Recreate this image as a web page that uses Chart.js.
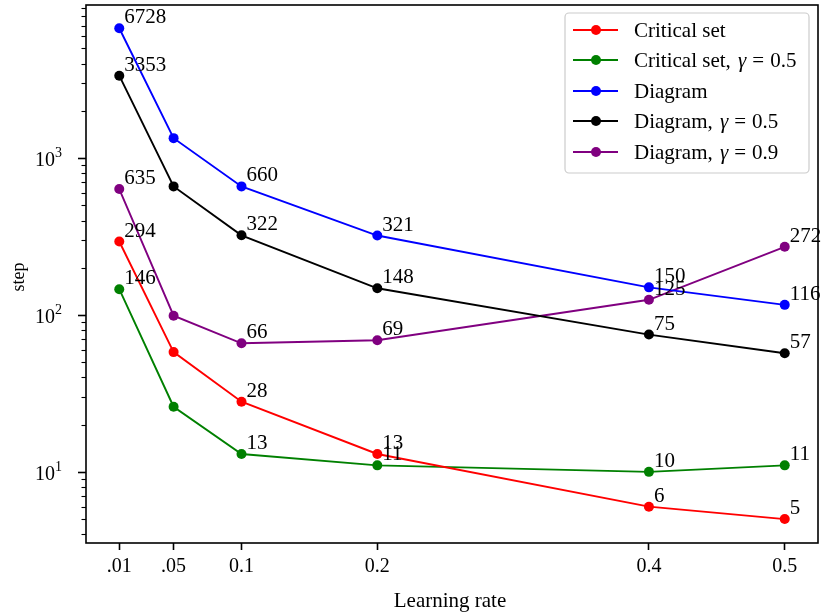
<!DOCTYPE html>
<html>
<head>
<meta charset="utf-8">
<script src="https://cdn.jsdelivr.net/npm/chart.js@4"></script>
<style>
  body { margin: 0; background: #fff; }
  #wrap { width: 823px; height: 613px; }
</style>
</head>
<body>
<div id="wrap"><canvas id="stepChart" width="823" height="613"></canvas></div>
<script>
const learningRates = [0.01, 0.05, 0.1, 0.2, 0.4, 0.5];
const tickLabels = ['.01', '.05', '0.1', '0.2', '0.4', '0.5'];

const criticalSet = [294, 58, 28, 13, 6, 5];
const criticalSetG05 = [146, 26, 13, 11, 10, 11];
const diagram = [6728, 1340, 660, 321, 150, 116];
const diagramG05 = [3353, 660, 322, 148, 75, 57];
const diagramG09 = [635, 99, 66, 69, 125, 272];

const seriesNames = ['Critical set', 'Critical set, ', 'Diagram', 'Diagram, ', 'Diagram, '];
const seriesGamma = [null, '0.5', null, '0.5', '0.9'];
const seriesColors = ['#ff0000', '#008000', '#0000ff', '#000000', '#800080'];
const allSeries = [criticalSet, criticalSetG05, diagram, diagramG05, diagramG09];

const FONT = '"Liberation Serif", "DejaVu Serif", serif';

function makeDataset(values, i) {
  return {
    label: seriesNames[i] + (seriesGamma[i] ? 'γ = ' + seriesGamma[i] : ''),
    data: values.map((v, k) => ({ x: learningRates[k], y: v })),
    borderColor: seriesColors[i],
    backgroundColor: seriesColors[i],
    borderWidth: 1.9,
    pointRadius: 5,
    pointHoverRadius: 5,
    pointBorderWidth: 0,
    tension: 0
  };
}

// labels, frame, log ticks and the legend, drawn the matplotlib way
const extras = {
  id: 'extras',
  afterDatasetsDraw(chart) {
    const ctx = chart.ctx;
    const area = chart.chartArea;
    const xs = chart.scales.x;
    const ys = chart.scales.y;
    ctx.save();

    // value labels
    ctx.font = '21px ' + FONT;
    ctx.fillStyle = '#000';
    ctx.textAlign = 'left';
    ctx.textBaseline = 'alphabetic';
    allSeries.forEach(vals => {
      vals.forEach((v, k) => {
        if (k === 1) return;
        const px = xs.getPixelForValue(learningRates[k]);
        const py = ys.getPixelForValue(v);
        ctx.fillText(String(v), px + 5, py - 5);
      });
    });

    // frame
    ctx.strokeStyle = '#000';
    ctx.lineWidth = 1.6;
    ctx.strokeRect(area.left, area.top, area.right - area.left, area.bottom - area.top);

    // y ticks (major + minor)
    for (let e = 0; e <= 3; e++) {
      for (let m = 1; m <= 9; m++) {
        const v = m * Math.pow(10, e);
        if (v < ys.min || v > ys.max) continue;
        const py = Math.round(ys.getPixelForValue(v)) + 0.5;
        const major = m === 1;
        ctx.lineWidth = major ? 1.6 : 1.1;
        ctx.beginPath();
        ctx.moveTo(area.left, py);
        ctx.lineTo(area.left - (major ? 8 : 4.5), py);
        ctx.stroke();
        if (major) {
          ctx.textBaseline = 'alphabetic';
          ctx.textAlign = 'left';
          ctx.font = '20px ' + FONT;
          ctx.fillText('10', 35, py + 7);
          ctx.font = '14px ' + FONT;
          ctx.fillText(String(e), 55, py - 2);
        }
      }
    }

    // axis titles
    ctx.textAlign = 'center';
    ctx.textBaseline = 'alphabetic';
    ctx.font = '21px ' + FONT;
    ctx.fillText('Learning rate', (area.left + area.right) / 2 - 2, 607);
    ctx.save();
    ctx.font = '18px ' + FONT;
    ctx.translate(24, 277);
    ctx.rotate(-Math.PI / 2);
    ctx.fillText('step', 0, 0);
    ctx.restore();

    // legend box
    const bx = 565, by = 13, bw = 244, bh = 160, r = 4;
    ctx.beginPath();
    ctx.moveTo(bx + r, by);
    ctx.arcTo(bx + bw, by, bx + bw, by + bh, r);
    ctx.arcTo(bx + bw, by + bh, bx, by + bh, r);
    ctx.arcTo(bx, by + bh, bx, by, r);
    ctx.arcTo(bx, by, bx + bw, by, r);
    ctx.closePath();
    ctx.fillStyle = 'rgba(255,255,255,0.85)';
    ctx.fill();
    ctx.strokeStyle = '#cccccc';
    ctx.lineWidth = 1.2;
    ctx.stroke();

    const rowY = [30, 60, 91, 121, 152];
    seriesNames.forEach((name, i) => {
      const y = rowY[i];
      ctx.strokeStyle = seriesColors[i];
      ctx.fillStyle = seriesColors[i];
      ctx.lineWidth = 1.9;
      ctx.beginPath();
      ctx.moveTo(573, y);
      ctx.lineTo(618, y);
      ctx.stroke();
      ctx.beginPath();
      ctx.arc(596, y, 5, 0, Math.PI * 2);
      ctx.fill();

      ctx.fillStyle = '#000';
      ctx.textAlign = 'left';
      ctx.textBaseline = 'alphabetic';
      ctx.font = '21px ' + FONT;
      const base = y + 7;
      let tx = 634;
      ctx.fillText(name, tx, base);
      if (seriesGamma[i]) {
        tx += ctx.measureText(name).width + 2;
        ctx.font = 'italic 21px ' + FONT;
        ctx.fillText('γ', tx, base);
        tx += ctx.measureText('γ').width + 6;
        ctx.font = '21px ' + FONT;
        ctx.fillText('=', tx, base);
        tx += ctx.measureText('=').width + 6;
        ctx.fillText(seriesGamma[i], tx, base);
      }
    });

    ctx.restore();
  }
};

const config = {
  type: 'line',
  data: { datasets: allSeries.map(makeDataset) },
  options: {
    responsive: false,
    animation: false,
    layout: { padding: { top: 3, right: 3, left: 0, bottom: 0 } },
    plugins: {
      legend: { display: false },
      tooltip: { enabled: false }
    },
    scales: {
      x: {
        type: 'linear',
        bounds: 'data',
        min: -0.0145,
        max: 0.5245,
        afterBuildTicks(scale) {
          scale.ticks = learningRates.map(v => ({ value: v }));
        },
        afterFit(scale) { scale.height = 70; },
        grid: { drawOnChartArea: false, drawTicks: true, tickLength: 7, tickColor: '#000', tickWidth: 1.6 },
        border: { display: false },
        ticks: {
          color: '#000',
          font: { family: FONT, size: 20 },
          padding: 5,
          maxRotation: 0,
          autoSkip: false,
          callback: (v, idx) => tickLabels[idx]
        }
      },
      y: {
        type: 'logarithmic',
        bounds: 'data',
        min: 3.52,
        max: 9460,
        afterFit(scale) { scale.width = 86; },
        grid: { display: false },
        border: { display: false },
        ticks: { display: false }
      }
    }
  },
  plugins: [extras]
};

const stepChart = new Chart(document.getElementById('stepChart'), config);
</script>
</body>
</html>
